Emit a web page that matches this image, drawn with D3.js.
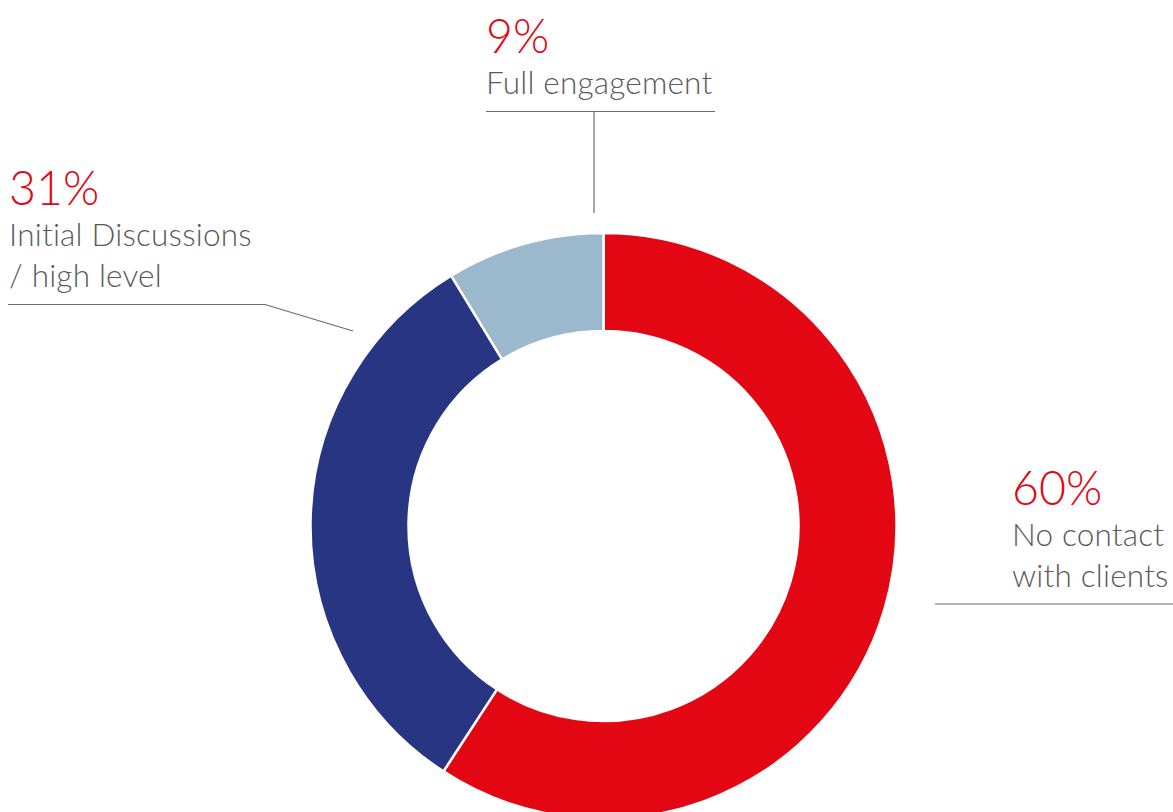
<!DOCTYPE html>
<html><head><meta charset="utf-8">
<script src="https://cdn.jsdelivr.net/npm/d3@7"></script>
<style>
html,body{margin:0;padding:0;background:#fff;}
svg text{font-family:Lato,"Open Sans",sans-serif;font-weight:300;font-variant-ligatures:none;}
</style></head>
<body>
<svg id="chart" width="1173" height="812"></svg>
<script>
const categories = ["No contact with clients", "Initial Discussions / high level", "Full engagement"];
const shares = [59.2, 32.1, 8.7];          // slice sizes as drawn
const percentLabels = ["60%", "31%", "9%"];
const labelLines = [["No contact", "with clients"], ["Initial Discussions", "/ high level"], ["Full engagement"]];
const colors = ["#E30613", "#283583", "#9BB8CC"];

const svg = d3.select("#chart");
const cx = 603.5, cy = 526, rOuter = 293, rInner = 195;

const pie = d3.pie().sort(null).value(d => d)(shares);
const arc = d3.arc().innerRadius(rInner).outerRadius(rOuter);

const g = svg.append("g").attr("transform", `translate(${cx},${cy})`);
g.selectAll("path").data(pie).join("path")
  .attr("d", arc)
  .attr("fill", (d, i) => colors[i])
  .attr("stroke", "#fff").attr("stroke-width", 2.5).attr("stroke-linejoin", "round");

// label layout (positions in page pixels)
const layout = [
  {x: 1012, pctY: 505, lineY0: 546, line: [[935, 604], [1173, 604]]},
  {x: 9, pctY: 205, lineY0: 246, line: [[8, 304.5], [265, 304.5], [353, 331]]},
  {x: 486, pctY: 53, lineY0: 94, line: [[486, 111.5], [715, 111.5]], stem: [[594, 111.5], [594, 213]]}
];

layout.forEach((L, i) => {
  svg.append("text").attr("x", L.x).attr("y", L.pctY)
    .attr("fill", "#E30613").attr("font-size", 46.5).text(percentLabels[i]);
  labelLines[i].forEach((t, k) => {
    svg.append("text").attr("x", L.x).attr("y", L.lineY0 + k * 41)
      .attr("fill", "#5a5a5a").attr("font-size", 31.5).attr("letter-spacing", 0.2).text(t);
  });
  svg.append("path").attr("d", d3.line()(L.line))
    .attr("fill", "none").attr("stroke", "#6a6a6a").attr("stroke-width", 1.2);
  if (L.stem) svg.append("path").attr("d", d3.line()(L.stem))
    .attr("fill", "none").attr("stroke", "#6a6a6a").attr("stroke-width", 1.2);
});
</script>
</body></html>
